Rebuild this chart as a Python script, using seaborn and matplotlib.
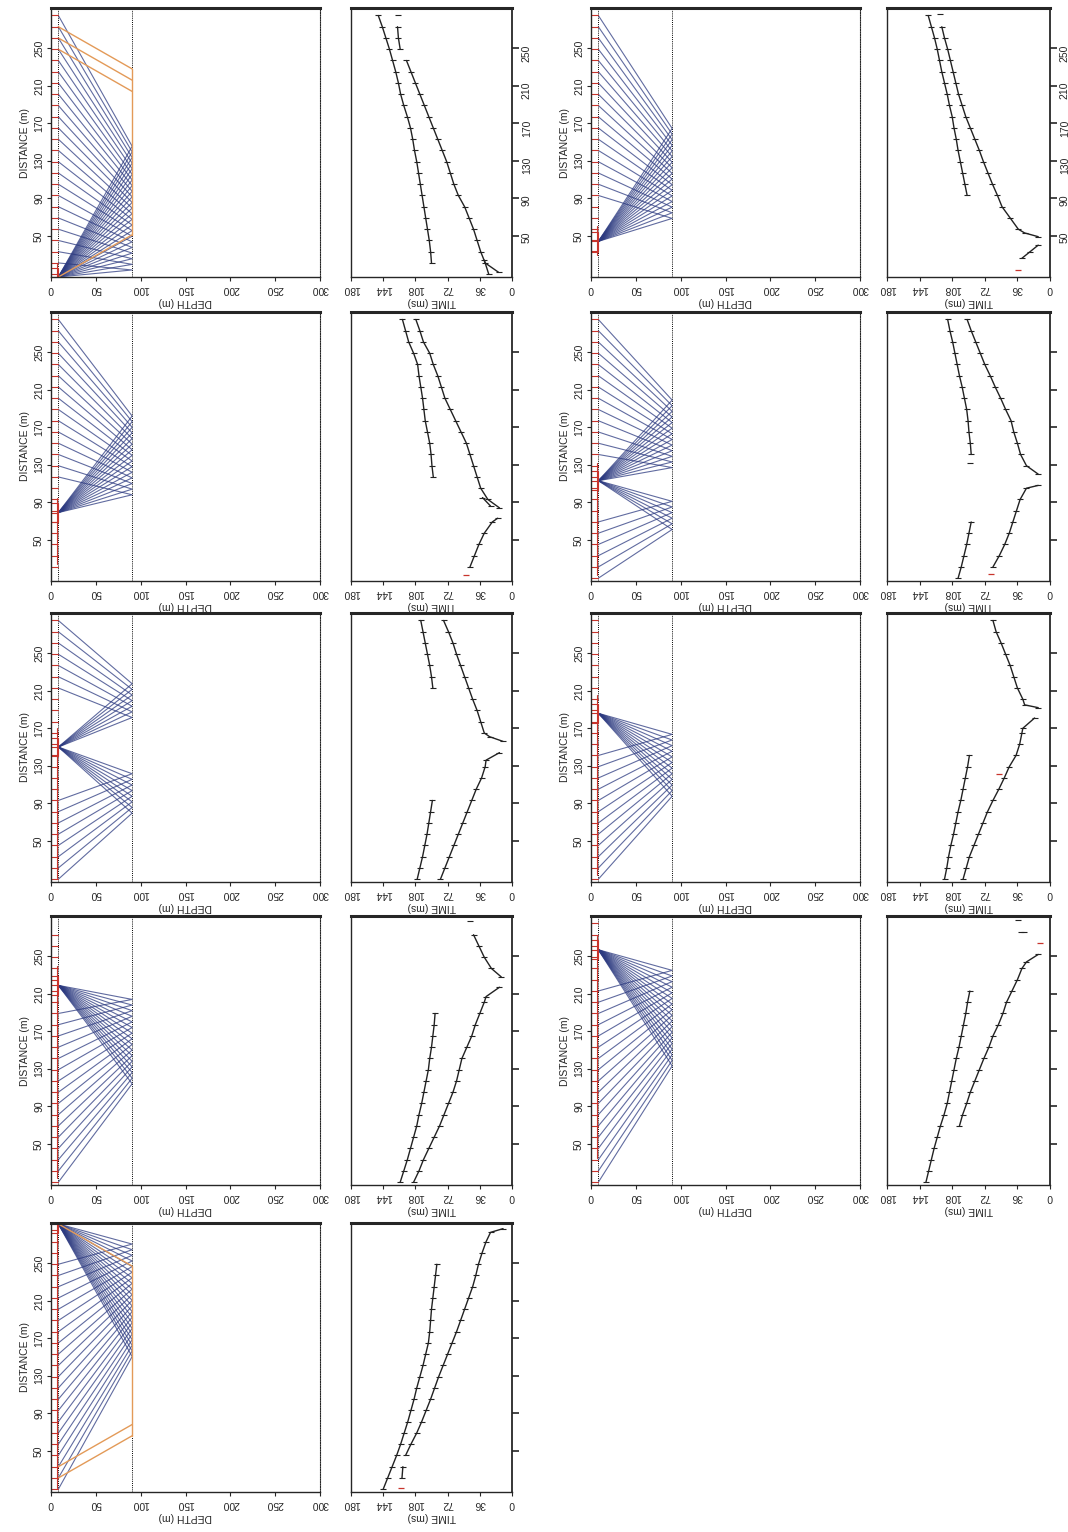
import matplotlib
matplotlib.use("Agg")
import matplotlib.pyplot as plt
import pandas as pd
import seaborn as sns

# model: base of weathered layer and reflector depth (m)
NEAR_SURFACE = 8.2
REFLECTOR = 90.5
HEAD_OFFSET = 45

GEOPHONES = [9, 21, 33, 45, 57, 69, 81, 93, 105, 117, 129, 141, 153, 165, 177,
             189, 201, 213, 225, 237, 249, 261, 273, 285]

# shots 1-5 left column, 6-9 right column
SOURCES = [6, 79, 150, 219, 292, 44, 113, 186, 257]
SPREAD_LO = [9, 21, 9, 9, 9, 33, 9, 9, 9]
SPREAD_HI = [285, 285, 285, 273, 285, 285, 285, 285, 285]
RED_LO = [6, 24, 10, 13, 10, 30, 12, 13, 35]
RED_HI = [20, 95, 170, 240, 293, 60, 132, 205, 272]

# reflection picks (distance m / time ms), one list per branch
S1_REFL_D = [[21, 33, 45, 57, 69, 81, 93, 105, 117, 129, 141, 153, 165, 177, 189, 201, 213, 225, 237, 249, 261, 273, 285]]
S1_REFL_T = [[90, 91, 92.5, 94.5, 96.5, 98.5, 100.5, 102.5, 104.5, 106.5, 109, 111, 113.5, 117, 121, 124.5, 127, 130, 133.5, 137, 141, 145, 149.5]]
S2_REFL_D = [[117, 129, 141, 153, 165, 177, 189, 201, 213, 225, 237, 249, 261, 273, 285]]
S2_REFL_T = [[88, 89.5, 90.5, 92, 94.5, 97, 98.5, 100, 102, 104, 105.5, 110, 115.5, 119, 122.5]]
S3_REFL_D = [[93, 81, 69, 57, 45, 33, 21, 9], [213, 225, 237, 249, 261, 273, 285]]
S3_REFL_T = [[89, 91, 93, 95, 97.5, 100, 103, 106], [88.5, 90, 92, 94.5, 97, 99.5, 102]]
S4_REFL_D = [[189, 177, 165, 153, 141, 129, 117, 105, 93, 81, 69, 57, 45, 33, 21, 9]]
S4_REFL_T = [[86, 87, 88.5, 90, 92, 93.5, 96, 98.5, 101, 104, 106.5, 110, 113.5, 117, 121, 125]]
S5_REFL_D = [[249, 237, 225, 213, 201, 189, 177, 165, 153, 141, 129, 117, 105, 93, 81, 69, 57, 45, 33, 21, 9]]
S5_REFL_T = [[84, 85.5, 87, 88.5, 90, 91, 92, 93.5, 96.5, 99.5, 103, 106.5, 109.5, 113, 116.5, 120.5, 124.5, 129, 134, 139, 144]]
S6_REFL_D = [[93, 105, 117, 129, 141, 153, 165, 177, 189, 201, 213, 225, 237, 249, 261, 273, 285]]
S6_REFL_T = [[91.5, 94, 96.5, 99, 101.5, 103.5, 106, 108, 111, 113.5, 116.5, 119.5, 122, 124.5, 127.5, 131, 134.5]]
S7_REFL_D = [[141, 153, 165, 177, 189, 201, 213, 225, 237, 249, 261, 273, 285], [69, 57, 45, 33, 21, 9]]
S7_REFL_T = [[87, 88, 89.5, 90.5, 92, 94.5, 97, 100, 102.5, 105, 107.5, 110.5, 113], [87, 89.5, 92, 95, 98, 101.5]]
S8_REFL_D = [[141, 129, 117, 105, 93, 81, 69, 57, 45, 33, 21, 9]]
S8_REFL_T = [[89, 91, 93.5, 96, 98.5, 101.5, 104, 106.5, 109.5, 112, 114, 116.5]]
S9_REFL_D = [[213, 201, 189, 177, 165, 153, 141, 129, 117, 105, 93, 81, 69, 57, 45, 33, 21, 9]]
S9_REFL_T = [[88.5, 91, 93, 95.5, 98, 100.5, 103.5, 106, 108.5, 111, 113.5, 117, 121, 124.5, 128, 131, 134, 137]]

# first-break picks
S1_FB_D = [[11, 21, 33, 45, 57, 69, 81, 93, 105, 117, 129, 141, 153, 165, 177, 189, 201, 213, 225, 237], [9, 24]]
S1_FB_T = [[15, 30, 35, 39, 43, 48, 53, 60, 65, 69, 73, 78, 83, 88, 93, 98, 103, 108, 113, 118], [26, 31]]
S2_FB_D = [[84, 93, 105, 117, 129, 141, 153, 165, 177, 189, 201, 213, 225, 237, 249, 261, 273, 285], [73, 69, 57, 45, 33, 21],
           [86, 95]]
S2_FB_T = [[14, 27, 35, 39, 43, 47, 51, 57, 63, 69, 75, 79, 83, 88, 92, 99, 103, 107.5], [16, 22, 31, 37, 42, 47],
           [24, 33]]
S3_FB_D = [[156, 161, 165, 177, 189, 201, 213, 225, 237, 249, 261, 273, 285],
           [144, 136, 129, 117, 105, 93, 81, 69, 57, 45, 33, 21, 9]]
S3_FB_T = [[10, 25, 31, 35, 39, 44, 48.5, 53, 57.5, 62, 66, 71, 76.5],
           [14, 29, 30, 34, 40, 45, 50, 55, 60, 65, 70, 75, 80]]
S4_FB_D = [[217, 207, 201, 189, 177, 165, 153, 141, 129, 117, 105, 93, 81, 69, 57, 45, 33, 21, 9], [228, 237, 249, 261, 273]]
S4_FB_T = [[14, 29, 31, 36, 41, 45, 50.5, 56, 59, 62, 66, 71, 76, 81, 87, 93, 99, 104, 110], [12, 23, 31, 37, 43]]
S5_FB_D = [[287, 283, 273, 261, 249, 237, 225, 213, 201, 189, 177, 165, 153, 141, 129, 117, 105, 93, 81, 69, 57, 45]]
S5_FB_T = [[10, 24, 29, 33.5, 37.5, 40.5, 44, 48.5, 53, 57.5, 62, 67, 72, 77, 82, 86.5, 91, 96, 101, 106.5, 113, 119]]
S6_FB_D = [[49, 53, 57, 69, 81, 93, 105, 117, 129, 141, 153, 165, 177, 189, 201, 213, 225, 237, 249, 261, 273], [40, 33, 26]]
S6_FB_T = [[13, 28, 35, 44, 53, 58, 63.5, 68.5, 73.5, 78, 83, 88, 93, 97, 101, 104, 107, 110, 113, 116.5, 119.5], [13, 22, 31]]
S7_FB_D = [[120, 129, 141, 153, 165, 177, 189, 201, 213, 225, 237, 249, 261, 273, 285], [108, 105, 93, 81, 69, 57, 45, 33, 21]]
S7_FB_T = [[13, 26, 32.5, 36, 40, 43, 49, 54.5, 60.5, 66, 72, 77, 82, 87, 91.5], [13, 26, 33, 37, 41, 45, 50, 56, 63]]
S8_FB_D = [[192, 195, 201, 213, 225, 237, 249, 261, 273, 285],
           [181, 170, 165, 153, 141, 129, 117, 105, 93, 81, 69, 57, 45, 33, 21, 9]]
S8_FB_T = [[13, 28, 30, 36, 40, 44, 49, 54, 59.5, 63],
           [17, 30, 31, 33.5, 37.5, 45, 50.5, 56.5, 63, 69, 74, 79, 84, 89, 92.5, 96]]
S9_FB_D = [[252, 244, 237, 225, 213, 201, 189, 177, 165, 153, 141, 129, 117, 105, 93, 81, 69]]
S9_FB_T = [[13, 26, 31, 36, 42, 48, 52, 57, 63, 67.5, 73, 78, 83, 88, 92, 96.5, 100]]

# head-wave arrivals (orange rays) and stray picks
HEAD_RCV = {0: [249, 261, 273], 4: [21, 33]}
S1_HW_D, S1_HW_T = [[249, 261, 273]], [[125, 127, 128]]
S5_HW_D, S5_HW_T = [[33, 21]], [[122, 123]]
PICK_D = {0: [285], 3: [288], 5: [287], 6: [132], 8: [288.5, 275.5, 275.5]}
PICK_T = {0: [128], 3: [47.5], 5: [121.5], 6: [88], 8: [35.5, 28.5, 32]}
RED_PICK_D = {1: [12], 4: [10], 5: [13], 6: [13], 7: [121], 8: [264]}
RED_PICK_T = {1: [51], 4: [124], 5: [35], 6: [65.5], 7: [56], 8: [11]}

REFL_D = [S1_REFL_D, S2_REFL_D, S3_REFL_D, S4_REFL_D, S5_REFL_D, S6_REFL_D, S7_REFL_D, S8_REFL_D, S9_REFL_D]
REFL_T = [S1_REFL_T, S2_REFL_T, S3_REFL_T, S4_REFL_T, S5_REFL_T, S6_REFL_T, S7_REFL_T, S8_REFL_T, S9_REFL_T]
FB_D = [S1_FB_D, S2_FB_D, S3_FB_D, S4_FB_D, S5_FB_D, S6_FB_D, S7_FB_D, S8_FB_D, S9_FB_D]
FB_T = [S1_FB_T, S2_FB_T, S3_FB_T, S4_FB_T, S5_FB_T, S6_FB_T, S7_FB_T, S8_FB_T, S9_FB_T]
HW_D = {0: S1_HW_D, 4: S5_HW_D}
HW_T = {0: S1_HW_T, 4: S5_HW_T}

SHOT_COL = [0, 0, 0, 0, 0, 1, 1, 1, 1]
SHOT_ROW = [0, 1, 2, 3, 4, 0, 1, 2, 3]

# layout in pixels of the 1068x1532 figure
FIG_W, FIG_H = 1068, 1532
ROW_TOP = [8, 312, 613, 916, 1223]
PANEL_H = 269
RAY_X, RAY_W = [51, 591], 269
TIME_X, TIME_W = [351, 887], [161, 163]

BLUE = "#2c3a80"
RED = "#c8342c"
ORANGE = "#e39a58"
INK = "#222222"

sns.set_style("ticks")
plt.rcParams["font.family"] = ["Liberation Sans", "DejaVu Sans"]
plt.rcParams["font.size"] = 7.5


def rect(x, top, w):
    return [x / FIG_W, 1 - (top + PANEL_H) / FIG_H, w / FIG_W, PANEL_H / FIG_H]


def draw_paths(ax, paths, color, lw, alpha=1.0, **kw):
    rows = []
    for k, (xs, ys) in enumerate(paths):
        for x, y in zip(xs, ys):
            rows.append((k, x, y))
    if not rows:
        return
    df = pd.DataFrame(rows, columns=["path", "x", "y"])
    sns.lineplot(data=df, x="x", y="y", units="path", estimator=None, sort=False,
                 color=color, lw=lw, alpha=alpha, ax=ax, legend=False, **kw)


def style_axes(ax):
    for side in ["left", "bottom", "right"]:
        ax.spines[side].set_linewidth(1.0)
    ax.spines["top"].set_linewidth(2.2)
    ax.set_ylim(6, 293)
    ax.set_yticks([50, 90, 130, 170, 210, 250])
    ax.tick_params(axis="x", labelrotation=180, length=3, width=0.8, pad=2)
    ax.tick_params(axis="y", labelrotation=90, length=3, width=0.8, pad=2)
    for lab in ax.get_yticklabels():
        lab.set_va("center")


def ray_panel(ax, i):
    src = SOURCES[i]
    ax.axvline(NEAR_SURFACE, color="k", ls=(0, (1, 1.2)), lw=0.7)
    ax.axvline(REFLECTOR, color="k", ls=(0, (1, 1.2)), lw=0.7)

    rcv = [r for branch in REFL_D[i] for r in branch]
    blue = [([NEAR_SURFACE, REFLECTOR, NEAR_SURFACE], [src, (src + r) / 2, r]) for r in rcv]
    draw_paths(ax, blue, BLUE, 0.8, alpha=0.75)

    if i in HEAD_RCV:
        sgn = 1 if HEAD_RCV[i][0] > src else -1
        exits = [r - sgn * HEAD_OFFSET for r in HEAD_RCV[i]]
        far = max(exits) if sgn > 0 else min(exits)
        orange = [([NEAR_SURFACE, REFLECTOR], [src, src + sgn * HEAD_OFFSET]),
                  ([REFLECTOR, REFLECTOR], [src + sgn * HEAD_OFFSET, far])]
        orange += [([REFLECTOR, NEAR_SURFACE], [e, r]) for e, r in zip(exits, HEAD_RCV[i])]
        draw_paths(ax, orange, ORANGE, 1.0)

    red = [([0, NEAR_SURFACE], [g, g]) for g in GEOPHONES if SPREAD_LO[i] <= g <= SPREAD_HI[i]]
    red.append(([6.3, 6.3], [RED_LO[i], RED_HI[i]]))
    red.append(([0, NEAR_SURFACE, NEAR_SURFACE, 0], [src - 10, src - 10, src + 10, src + 10]))
    red.append(([0, NEAR_SURFACE], [src, src]))
    draw_paths(ax, red, RED, 0.8)

    ax.set_xlim(0, 300)
    ax.set_xticks([0, 50, 100, 150, 200, 250, 300])
    style_axes(ax)
    ax.spines["right"].set_linestyle((0, (1, 1.2)))
    ax.spines["right"].set_linewidth(0.8)
    ax.set_xlabel("DEPTH (m)", rotation=180, labelpad=2)
    ax.set_ylabel("DISTANCE (m)", labelpad=3)


def time_panel(ax, i, labels):
    branches = [(d, t) for d, t in zip(REFL_D[i], REFL_T[i])]
    branches += [(d, t) for d, t in zip(FB_D[i], FB_T[i])]
    if i in HW_D:
        branches += [(d, t) for d, t in zip(HW_D[i], HW_T[i])]
    paths = [(t, d) for d, t in branches]
    draw_paths(ax, paths, INK, 1.0, marker="_", markersize=4.5, markeredgewidth=0.8,
               markeredgecolor=INK)
    if i in PICK_D:
        sns.lineplot(x=PICK_T[i], y=PICK_D[i], ax=ax, color=INK, lw=0, marker="_",
                     markersize=4.5, markeredgewidth=0.8, markeredgecolor=INK,
                     estimator=None, sort=False)
    if i in RED_PICK_D:
        sns.lineplot(x=RED_PICK_T[i], y=RED_PICK_D[i], ax=ax, color=RED, lw=0, marker="_",
                     markersize=4, markeredgewidth=0.9, markeredgecolor=RED,
                     estimator=None, sort=False)

    ax.set_xlim(180, 0)
    ax.set_xticks([0, 36, 72, 108, 144, 180])
    style_axes(ax)
    ax.spines["right"].set_linewidth(1.3)
    ax.yaxis.tick_right()
    ax.tick_params(axis="y", length=5, width=1.2, labelright=labels, labelleft=False)
    ax.set_xlabel("TIME (ms)", rotation=180, labelpad=2)
    ax.set_ylabel("")


fig = plt.figure(figsize=(FIG_W / 100, FIG_H / 100), dpi=100)
for i in range(len(SOURCES)):
    col, row = SHOT_COL[i], SHOT_ROW[i]
    ax_ray = fig.add_axes(rect(RAY_X[col], ROW_TOP[row], RAY_W))
    ray_panel(ax_ray, i)
    ax_time = fig.add_axes(rect(TIME_X[col], ROW_TOP[row], TIME_W[col]))
    time_panel(ax_time, i, labels=(row == 0))

fig.savefig("out.png", dpi=100)
